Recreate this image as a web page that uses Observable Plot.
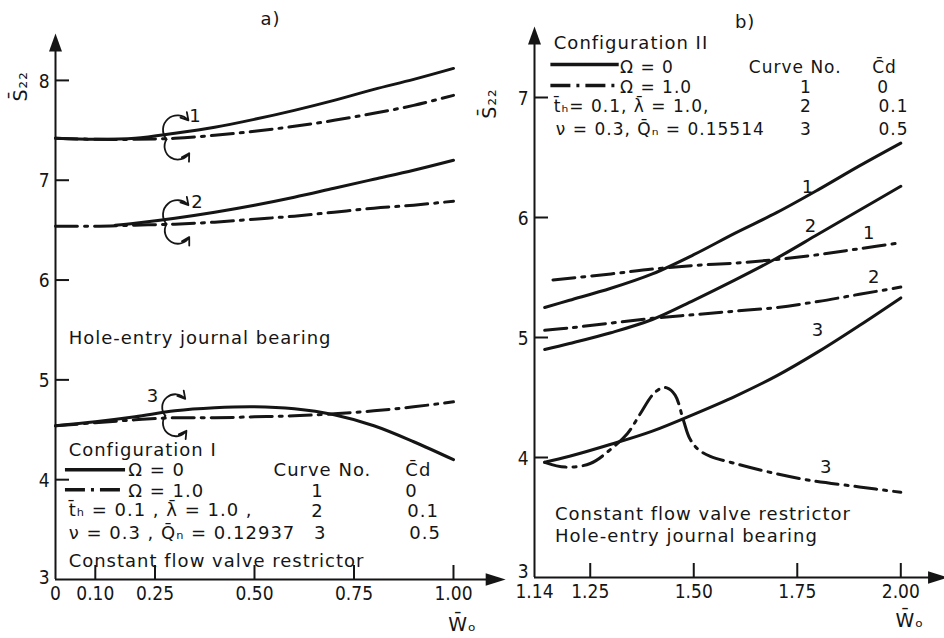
<!DOCTYPE html>
<html><head><meta charset="utf-8">
<script src="https://cdn.jsdelivr.net/npm/d3@7"></script>
<script src="https://cdn.jsdelivr.net/npm/@observablehq/plot@0.6"></script>
<style>
body{margin:0;background:#fff;}
#wrap{position:relative;width:944px;height:638px;overflow:hidden;background:#fff;}
#wrap svg{position:absolute;top:0;}
#wrap svg g[aria-label="text"] text{letter-spacing:1px;}
</style></head><body><div id="wrap"></div>
<script>
// ---------- Panel a) Configuration I ----------
const xA  = [0, 0.1, 0.2, 0.3, 0.4, 0.5, 0.6, 0.7, 0.8, 0.9, 1.0];
const xA2 = [0.15, 0.2, 0.3, 0.4, 0.5, 0.6, 0.7, 0.8, 0.9, 1.0];
const a1Omega0 = [7.42, 7.41, 7.42, 7.47, 7.53, 7.61, 7.70, 7.80, 7.91, 8.01, 8.12];
const a1Omega1 = [7.42, 7.41, 7.41, 7.42, 7.45, 7.49, 7.54, 7.60, 7.67, 7.75, 7.85];
const a2Omega0 = [6.55, 6.57, 6.62, 6.68, 6.75, 6.83, 6.92, 7.01, 7.10, 7.20];
const a2Omega1 = [6.54, 6.54, 6.55, 6.56, 6.58, 6.61, 6.64, 6.68, 6.72, 6.75, 6.79];
const a3Omega0 = [4.54, 4.58, 4.63, 4.69, 4.72, 4.73, 4.71, 4.65, 4.54, 4.38, 4.20];
const a3Omega1 = [4.54, 4.57, 4.60, 4.62, 4.62, 4.63, 4.64, 4.66, 4.69, 4.73, 4.78];
const yTicksA = [3, 4, 5, 6, 7, 8];
const xTicksA = [0, 0.10, 0.25, 0.50, 0.75, 1.00];
const xTickLabelsA = ["0", "0.10", "0.25", "0.50", "0.75", "1.00"];

// ---------- Panel b) Configuration II ----------
const xB   = [1.14, 1.2, 1.3, 1.4, 1.5, 1.6, 1.7, 1.8, 1.9, 2.0];
const xB1d = [1.16, 1.3, 1.4, 1.5, 1.6, 1.7, 1.8, 1.9, 2.0];
const b1Omega0 = [5.25, 5.31, 5.41, 5.53, 5.69, 5.87, 6.04, 6.23, 6.43, 6.62];
const b1Omega1 = [5.48, 5.53, 5.57, 5.60, 5.62, 5.65, 5.69, 5.74, 5.79];
const b2Omega0 = [4.90, 4.95, 5.04, 5.15, 5.31, 5.48, 5.66, 5.86, 6.06, 6.26];
const b2Omega1 = [5.06, 5.08, 5.12, 5.16, 5.19, 5.22, 5.25, 5.30, 5.36, 5.42];
const b3Omega0 = [3.96, 4.01, 4.11, 4.22, 4.36, 4.51, 4.68, 4.88, 5.10, 5.33];
const xB3d     = [1.14, 1.19, 1.25, 1.30, 1.34, 1.37, 1.40, 1.42, 1.435, 1.455, 1.475, 1.49, 1.51, 1.54, 1.60, 1.68, 1.78, 1.90, 2.00];
const b3Omega1 = [3.96, 3.92, 3.95, 4.07, 4.20, 4.36, 4.52, 4.575, 4.58, 4.52, 4.31, 4.16, 4.07, 4.01, 3.95, 3.88, 3.81, 3.755, 3.71];
const yTicksB = [3, 4, 5, 6, 7];
const xTicksB = [1.25, 1.50, 1.75, 2.00];
const xTickLabelsB = ["1.14", "1.25", "1.50", "1.75", "2.00"];

// ---------- styling ----------
const ink = "#151515";
const FONT = "'DejaVu Sans', 'Liberation Sans', sans-serif";
const NUMFONT = "'DejaVu Sans Condensed', 'Liberation Sans Narrow', 'DejaVu Sans', sans-serif";
const DASHDOT = "22,7,3,7";
const CW = 3;

const arrowUp = {draw(ctx, size) { const r = Math.sqrt(size / Math.PI); ctx.moveTo(0, -r); ctx.lineTo(0.72 * r, r); ctx.lineTo(-0.72 * r, r); ctx.closePath(); }};
const arrowRight = {draw(ctx, size) { const r = Math.sqrt(size / Math.PI); ctx.moveTo(r, 0); ctx.lineTo(-r, 0.62 * r); ctx.lineTo(-r, -0.62 * r); ctx.closePath(); }};

const series = (xs, ys) => xs.map((x, i) => ({x, y: ys[i]}));
const solid = (d) => Plot.line(d, {x: "x", y: "y", stroke: ink, strokeWidth: CW, curve: "catmull-rom"});
const dashed = (d) => Plot.line(d, {x: "x", y: "y", stroke: ink, strokeWidth: CW, curve: "catmull-rom", strokeDasharray: DASHDOT});
const label = (t, x, y, o = {}) => Plot.text([t], {x, y, text: d => d, textAnchor: "start", fontSize: 18, fontFamily: FONT, fill: ink, ...o});

function axes(xMin, xArrowBase, xArrow, yTop, yArrow, xTicks, xLabelTicks, xLabels, yTicks, dy3) {
  const xl = new Map(xLabelTicks.map((v, i) => [v, xLabels[i]]));
  const yStyle = {tickSize: 0, tickPadding: 6, fontSize: 19, fontFamily: NUMFONT, fill: ink, label: null, tickFormat: d => String(d)};
  return [
    Plot.ruleX([xMin], {y1: 3, y2: yTop, stroke: ink, strokeWidth: 2}),
    Plot.ruleY([3], {x1: xMin, x2: xArrowBase, stroke: ink, strokeWidth: 2}),
    Plot.dot([0], {x: xMin, y: yArrow, symbol: arrowUp, r: 9, fill: ink, stroke: null}),
    Plot.dot([0], {x: xArrow, y: 3, symbol: arrowRight, r: 10, fill: ink, stroke: null}),
    Plot.axisY(yTicks.slice(1), {tickSize: -14, tickFormat: () => "", stroke: ink, strokeWidth: 2, label: null}),
    Plot.axisY(yTicks.slice(1), {...yStyle, dy: 1}),
    Plot.axisY(yTicks.slice(0, 1), {...yStyle, dy: dy3}),
    Plot.axisX(xTicks, {tickSize: -14, tickFormat: () => "", stroke: ink, strokeWidth: 2, label: null}),
    Plot.axisX(xLabelTicks, {tickSize: 0, tickPadding: 7, fontSize: 19, fontFamily: NUMFONT, fill: ink, label: null, tickFormat: d => xl.get(d)})
  ];
}

// ---------- left panel ----------
// curved double arrows (annotation) around each pair of curves
const arcTopA = [{x1: 0.279, y1: 7.41, x2: 0.334, y2: 7.60}, {x1: 0.279, y1: 6.56, x2: 0.334, y2: 6.75}, {x1: 0.276, y1: 4.64, x2: 0.326, y2: 4.81}];
const arcBotA = [{x1: 0.279, y1: 7.41, x2: 0.336, y2: 7.27}, {x1: 0.279, y1: 6.56, x2: 0.336, y2: 6.43}, {x1: 0.276, y1: 4.64, x2: 0.329, y2: 4.49}];

const left = Plot.plot({
  width: 512, height: 638,
  marginLeft: 55, marginRight: 7, marginTop: 30, marginBottom: 59,
  x: {domain: [0, 1.1307], label: null},
  y: {domain: [3, 8.5], label: null},
  style: {background: "transparent", overflow: "visible", fontFamily: FONT, color: ink},
  marks: [
    ...axes(0, 1.09, 1.106, 8.3, 8.38, xTicksA.slice(1), xTicksA, xTickLabelsA, yTicksA, -2),
    solid(series(xA, a1Omega0)), dashed(series(xA, a1Omega1)),
    dashed(series(xA, a2Omega1)), solid(series(xA2, a2Omega0)),
    solid(series(xA, a3Omega0)), dashed(series(xA, a3Omega1)),
    Plot.arrow(arcTopA, {x1: "x1", y1: "y1", x2: "x2", y2: "y2", bend: 90, headLength: 7, strokeWidth: 1.8, stroke: ink}),
    Plot.arrow(arcBotA, {x1: "x1", y1: "y1", x2: "x2", y2: "y2", bend: -90, headLength: 7, strokeWidth: 1.8, stroke: ink}),
    label("1", 0.352, 7.64, {textAnchor: "middle"}),
    label("2", 0.357, 6.78, {textAnchor: "middle"}),
    label("3", 0.245, 4.84, {textAnchor: "middle"}),
    label("a)", 0.54, 8.61, {textAnchor: "middle"}),
    label("S\u0304\u2082\u2082", -0.088, 7.94, {textAnchor: "middle", rotate: -90, fontSize: 19}),
    label("W\u0304\u2092", 1.023, 2.55, {textAnchor: "middle", fontSize: 19}),
    label("Hole-entry journal bearing", 0.033, 5.42),
    label("Configuration I", 0.033, 4.30),
    Plot.ruleY([4.10], {x1: 0.025, x2: 0.176, stroke: ink, strokeWidth: 3.5}),
    Plot.ruleY([3.90], {x1: 0.025, x2: 0.176, stroke: ink, strokeWidth: 3.5, strokeDasharray: "20,6,3,6"}),
    label("\u03a9 = 0", 0.183, 4.09),
    label("\u03a9 = 1.0", 0.183, 3.88),
    label("t\u0304\u2095 = 0.1 , \u03bb\u0304 = 1.0 ,", 0.033, 3.69),
    label("\u03bd = 0.3 , Q\u0304\u2099 = 0.12937", 0.033, 3.46),
    label("Constant flow valve restrictor", 0.033, 3.18),
    label("Curve No.", 0.548, 4.09),
    label("C\u0304d", 0.879, 4.09),
    label("1", 0.658, 3.88, {textAnchor: "middle"}),
    label("2", 0.658, 3.68, {textAnchor: "middle"}),
    label("3", 0.665, 3.46, {textAnchor: "middle"}),
    label("0", 0.879, 3.88),
    label("0.1", 0.884, 3.68),
    label("0.5", 0.889, 3.46)
  ]
});
left.style.left = "0px";

// ---------- right panel ----------
const xMinB = 1.1154;
const leg = {fontSize: 17};
const right = Plot.plot({
  width: 472, height: 638,
  marginLeft: 62, marginRight: 3, marginTop: 25, marginBottom: 61,
  x: {domain: [xMinB, 2.0983], label: null},
  y: {domain: [3, 7.6], label: null},
  style: {background: "transparent", overflow: "visible", fontFamily: FONT, color: ink},
  marks: [
    ...axes(xMinB, 2.07, 2.09, 7.45, 7.517, xTicksB, [xMinB, ...xTicksB], xTickLabelsB, yTicksB, -6),
    solid(series(xB, b1Omega0)), dashed(series(xB1d, b1Omega1)),
    solid(series(xB, b2Omega0)), dashed(series(xB, b2Omega1)),
    solid(series(xB, b3Omega0)), dashed(series(xB3d, b3Omega1)),
    label("1", 1.776, 6.25, {textAnchor: "middle"}),
    label("2", 1.783, 5.93, {textAnchor: "middle"}),
    label("1", 1.924, 5.87, {textAnchor: "middle"}),
    label("2", 1.936, 5.50, {textAnchor: "middle"}),
    label("3", 1.80, 5.06, {textAnchor: "middle"}),
    label("3", 1.82, 3.92, {textAnchor: "middle"}),
    label("b)", 1.624, 7.63, {textAnchor: "middle"}),
    label("S\u0304\u2082\u2082", 1.007, 6.95, {textAnchor: "middle", rotate: -90, fontSize: 19}),
    label("W\u0304\u2092", 2.022, 2.64, {textAnchor: "middle", fontSize: 19}),
    label("Configuration II", 1.162, 7.45),
    Plot.ruleY([7.275], {x1: 1.155, x2: 1.32, stroke: ink, strokeWidth: 3.5}),
    Plot.ruleY([7.10], {x1: 1.155, x2: 1.32, stroke: ink, strokeWidth: 3.5, strokeDasharray: "20,6,3,6"}),
    label("\u03a9 = 0", 1.322, 7.25, leg),
    label("\u03a9 = 1.0", 1.322, 7.08, leg),
    label("t\u0304\u2095= 0.1, \u03bb\u0304 = 1.0,", 1.162, 6.925, leg),
    label("\u03bd = 0.3, Q\u0304\u2099 = 0.15514", 1.167, 6.73, leg),
    label("Curve No.", 1.633, 7.25, leg),
    label("C\u0304d", 1.931, 7.25, leg),
    label("1", 1.771, 7.08, {...leg, textAnchor: "middle"}),
    label("2", 1.771, 6.925, {...leg, textAnchor: "middle"}),
    label("3", 1.771, 6.73, {...leg, textAnchor: "middle"}),
    label("0", 1.943, 7.08, leg),
    label("0.1", 1.946, 6.925, leg),
    label("0.5", 1.946, 6.73, leg),
    label("Constant flow valve restrictor", 1.165, 3.525),
    label("Hole-entry journal bearing", 1.165, 3.34)
  ]
});
right.style.left = "472px";

const wrap = document.getElementById("wrap");
wrap.append(left, right);
</script>
</body></html>
